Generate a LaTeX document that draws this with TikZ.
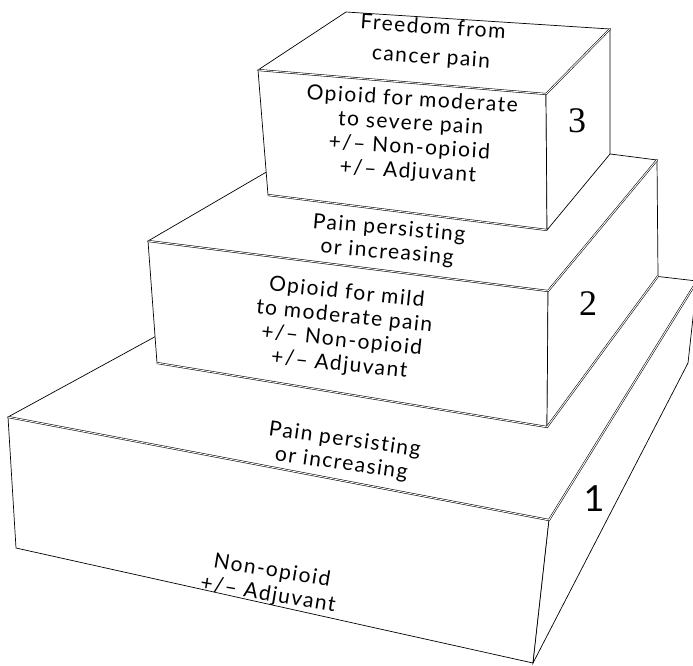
\documentclass[tikz,border=0pt]{standalone}
\usepackage{fontspec}
\setmainfont{Lato}[LetterSpace=7,Ligatures=NoCommon]
\newfontfamily\numfont{Liberation Serif}
\usetikzlibrary{positioning}

\begin{document}
\begin{tikzpicture}[x=1pt,y=-1pt,line join=miter,
  face/.style={draw,fill=white,line width=0.7pt},
  rim/.style={double,double distance=0.9pt,line width=0.55pt},
  lbl/.style={align=center,inner sep=0pt,font=\fontsize{21}{24}\selectfont},
  num/.style={inner sep=0pt,font=\fontsize{36}{36}\selectfont}]
  \useasboundingbox (0,0) rectangle (693,665);
  \clip (0,0) rectangle (693,665);
  % step 1
  \coordinate (t1a) at (8,417);   \coordinate (t1b) at (549,520);
  \coordinate (t1c) at (697,281); \coordinate (t1d) at (334,239);
  \coordinate (b1a) at (16,548);  \coordinate (b1b) at (533,663);
  \coordinate (b1c) at (688,363);
  \filldraw[face] (t1a) -- (t1b) -- (t1c) -- (t1d) -- cycle;
  \filldraw[face] (t1a) -- (t1b) -- (b1b) -- (b1a) -- cycle;
  \filldraw[face] (t1b) -- (t1c) -- (b1c) -- (b1b) -- cycle;
  \draw[rim] (t1a) -- (t1b) -- (t1c);
  % step 2
  \coordinate (t2a) at (148,241); \coordinate (t2b) at (548,291);
  \coordinate (t2c) at (657,160); \coordinate (t2d) at (354,121);
  \coordinate (b2a) at (157,363); \coordinate (b2b) at (547,427);
  \coordinate (b2c) at (658,276);
  \filldraw[face] (t2a) -- (t2b) -- (t2c) -- (t2d) -- cycle;
  \filldraw[face] (t2a) -- (t2b) -- (b2b) -- (b2a) -- cycle;
  \filldraw[face] (t2b) -- (t2c) -- (b2c) -- (b2b) -- cycle;
  \draw[rim] (t2a) -- (t2b) -- (t2c);
  \draw[rim] (b2a) -- (b2b) -- (b2c);
  % step 3
  \coordinate (t3a) at (258,70);  \coordinate (t3b) at (546,94);
  \coordinate (t3c) at (610,29);  \coordinate (t3d) at (346,12);
  \coordinate (b3a) at (268,195); \coordinate (b3b) at (547,230);
  \coordinate (b3c) at (610,154);
  \filldraw[face] (t3a) -- (t3b) -- (t3c) -- (t3d) -- cycle;
  \filldraw[face] (t3a) -- (t3b) -- (b3b) -- (b3a) -- cycle;
  \filldraw[face] (t3b) -- (t3c) -- (b3c) -- (b3b) -- cycle;
  \draw[rim] (t3a) -- (t3b) -- (t3c);
  \draw[rim] (b3a) -- (b3b);

  \node[lbl,rotate=-4] (goal) at (432,43) {Freedom from\\[6pt]cancer pain};
  \node[lbl,rotate=-3.5] (drug3) at (410,136)
       {Opioid for moderate\\to severe pain\\+/– Non-opioid\\+/– Adjuvant};
  \node[num] (n3) at (577,121) {\numfont 3};
  \node[lbl,rotate=-5] (up2) at (388,241) {Pain persisting\\or increasing};
  \node[lbl,rotate=-6] (drug2) at (343,329)
       {Opioid for mild\\to moderate pain\\+/– Non-opioid\\+/– Adjuvant};
  \node[num] (n2) at (588,304) {\numfont 2};
  \node[lbl,rotate=-8] (up1) at (343,452) {Pain persisting\\or increasing};
  \node[lbl,rotate=-9.5] (drug1) at (270,583) {Non-opioid\\+/– Adjuvant};
  \node[num] (n1) at (594,499) {1};
\end{tikzpicture}
\end{document}
